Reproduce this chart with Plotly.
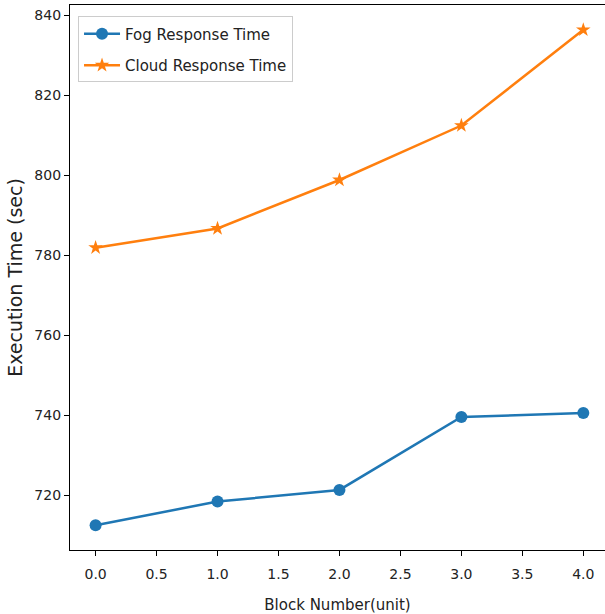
import plotly.graph_objects as go

blocks = [0, 1, 2, 3, 4]
fog_times = [712.6, 718.5, 721.4, 739.6, 740.6]
cloud_times = [781.9, 786.7, 798.8, 812.4, 836.3]
x_ticks = [0.0, 0.5, 1.0, 1.5, 2.0, 2.5, 3.0, 3.5, 4.0]
y_ticks = [720, 740, 760, 780, 800, 820, 840]

FONT = "DejaVu Sans"

fig = go.Figure()
fig.add_trace(go.Scatter(
    x=blocks, y=fog_times, mode="lines+markers", name="Fog Response Time",
    legendgroup="fog",
    line=dict(color="#1f77b4", width=2.5),
    marker=dict(symbol="circle", size=12, color="#1f77b4"),
))
fig.add_trace(go.Scatter(
    x=blocks, y=cloud_times, mode="lines+markers", name="Cloud Response Time",
    legendgroup="cloud",
    line=dict(color="#ff7f0e", width=2.5),
    marker=dict(symbol="star", size=11, color="#ff7f0e"),
))

axis_common = dict(
    showgrid=False, zeroline=False, showline=True, linecolor="black", linewidth=1.2,
    ticks="outside", ticklen=5, tickwidth=1.2, tickcolor="black",
    tickfont=dict(family=FONT, size=14, color="#222"), automargin=False,
)

fig.update_xaxes(
    range=[-0.21, 4.178], tickvals=x_ticks, ticktext=[f"{v:.1f}" for v in x_ticks],
    mirror=True, ticklabelstandoff=6,
    title=dict(text="Block Number(unit)", font=dict(family=FONT, size=15, color="#222"), standoff=22),
    **axis_common,
)
fig.update_yaxes(
    range=[706.4, 842.5], tickvals=y_ticks, mirror=False,
    title=dict(text="Execution Time (sec)", font=dict(family=FONT, size=19, color="#222"), standoff=6),
    **axis_common,
)

fig.update_layout(
    width=605, height=614,
    margin=dict(l=70, r=0, t=5, b=64),
    plot_bgcolor="white", paper_bgcolor="white",
    font=dict(family=FONT, color="#222"),
    legend=dict(
        x=0.015, y=0.979, xanchor="left", yanchor="top",
        bgcolor="rgba(255,255,255,0.8)", bordercolor="#cccccc", borderwidth=1,
        font=dict(family=FONT, size=15, color="#222"), tracegroupgap=9, itemwidth=36,
    ),
    showlegend=True,
)

fig.write_html(
    "out.html",
    config={"displayModeBar": False},
    post_script="document.body.style.margin='0';document.body.style.overflow='hidden';",
)
